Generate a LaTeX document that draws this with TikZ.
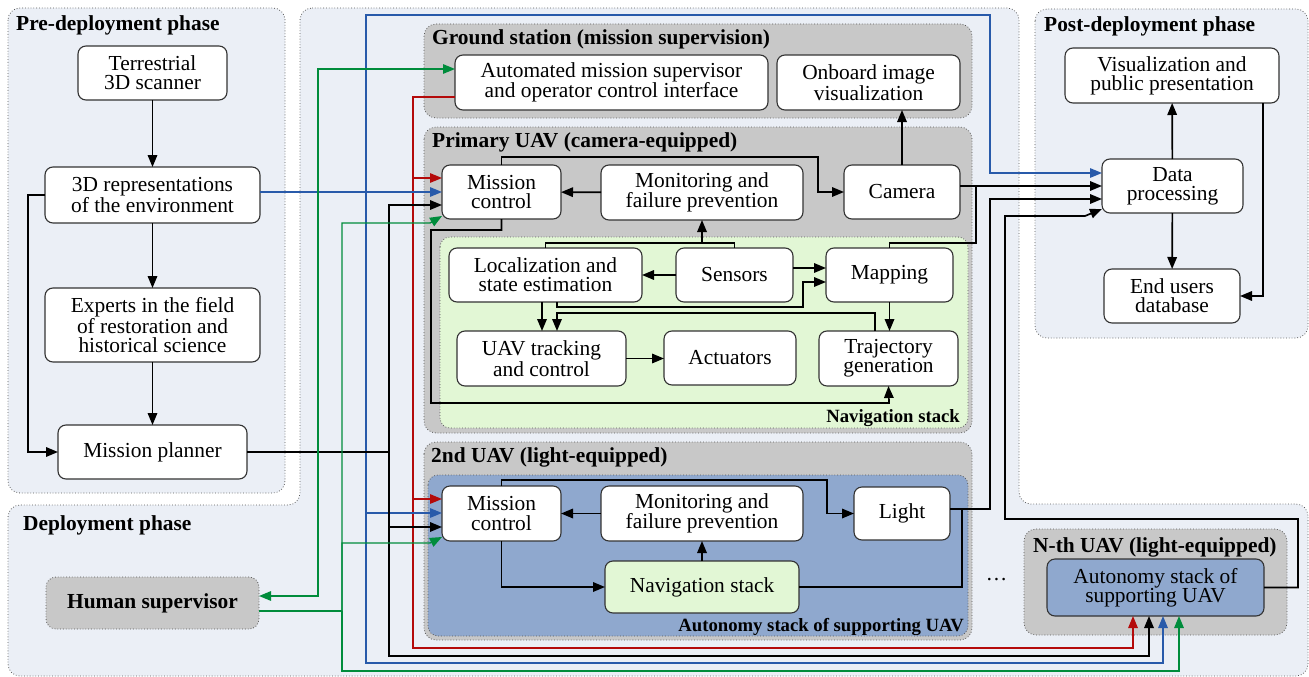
\documentclass[tikz,border=0pt]{standalone}
\usepackage{fontspec}
\setmainfont{Liberation Serif}
\usetikzlibrary{arrows.meta}
\definecolor{bgc}{RGB}{235,239,246}
\definecolor{grc}{RGB}{200,200,200}
\definecolor{nvc}{RGB}{226,247,213}
\definecolor{auc}{RGB}{143,168,206}
\definecolor{cred}{RGB}{180,10,10}
\definecolor{cblue}{RGB}{40,90,170}
\definecolor{cgreen}{RGB}{0,140,60}
\newcommand\nfnt{\fontsize{21.4}{19.2}\selectfont}
\newcommand\tfnt{\fontsize{21.4}{19.2}\selectfont\bfseries}
\newcommand\lfnt{\fontsize{18.7}{18}\selectfont\bfseries}
\begin{document}
\begin{tikzpicture}[x=1pt,y=-1pt,
  >={Triangle[length=12pt,width=9.5pt]},
  box/.style={draw=black!80,line width=1.1pt,fill=white,rounded corners=8pt,align=center,inner sep=0pt,outer sep=0pt,font=\nfnt},
  sz/.style 2 args={minimum width=#1pt,minimum height=#2pt},
  region/.style={fill=bgc,draw=black!65,line width=0.8pt,dash pattern=on 0.8pt off 2pt,rounded corners=12pt},
  cont/.style={fill=grc,draw=black!65,line width=0.8pt,dash pattern=on 0.8pt off 2pt,rounded corners=12pt},
  title/.style={font=\tfnt,anchor=base west,inner sep=0pt},
  lab/.style={font=\lfnt,anchor=base east,inner sep=0pt},
  kl/.style={draw=black,line width=1.7pt},
  ka/.style={kl,->},
  rl/.style={draw=cred,line width=1.4pt},
  ra/.style={rl,->},
  bl/.style={draw=cblue,line width=1.4pt},
  ba/.style={bl,->},
  gl/.style={draw=cgreen,line width=1.4pt},
  ga/.style={gl,->}
]
\useasboundingbox (0,0) rectangle (1309,677);
% phases
\path[region] (8,8) rectangle (285,493);
\path[region] (300,8) -- (1019,8) -- (1019,504) -- (1308,504) -- (1308,676) -- (8,676) -- (8,505) -- (300,505) -- cycle;
\path[region] (1035,9) rectangle (1308,338);
% containers
\path[cont] (424,24) rectangle (972,118);
\path[cont] (424,127) rectangle (972,433);
\path[cont,fill=nvc,rounded corners=10pt] (440,237) rectangle (968,428);
\path[cont] (424,442) rectangle (972,640);
\path[cont,fill=auc,rounded corners=10pt] (428,475) rectangle (968,636);
\path[cont] (1024,529) rectangle (1287,635);
% titles
\node[title] (tpre) at (16,31) {Pre-deployment phase};
\node[title] (tdep) at (23,530) {Deployment phase};
\node[title] (tpost) at (1044,32) {Post-deployment phase};
\node[title] (tgs) at (432,45) {Ground station (mission supervision)};
\node[title] (tpu) at (432,147) {Primary UAV (camera-equipped)};
\node[title] (tu2) at (431,462) {2nd UAV (light-equipped)};
\node[title] (tun) at (1033,552) {N-th UAV (light-equipped)};
\node[lab] (lnav) at (960,422) {Navigation stack};
\node[lab] (laut) at (964,631) {Autonomy stack of supporting UAV};
\node[font=\nfnt,anchor=base,inner sep=0pt] (dots) at (996.5,580) {\dots};
% nodes
\node[box,sz={149}{54}] (scan) at (152.5,73) {Terrestrial\\3D scanner};
\node[box,sz={215}{56}] (rep) at (152.5,195) {3D representations\\of the environment};
\node[box,sz={215}{74}] (exp) at (152.5,325) {Experts in the field\\of restoration and\\historical science};
\node[box,sz={189}{54}] (plan) at (152.5,452) {Mission planner};
\node[box,sz={213}{52},fill=grc,draw=black!65,line width=0.8pt,dash pattern=on 0.8pt off 2pt,rounded corners=10pt,font=\tfnt] (hs) at (152.5,603) {Human supervisor};
\node[box,sz={313}{55}] (ams) at (611.5,82.5) {Automated mission supervisor\\and operator control interface};
\node[box,sz={183}{55}] (oiv) at (868.5,82.5) {Onboard image\\visualization};
\node[box,sz={119}{54}] (mc1) at (501.5,192) {Mission\\control};
\node[box,sz={202}{55}] (mon1) at (702,192.5) {Monitoring and\\failure prevention};
\node[box,sz={116}{54}] (cam) at (902,192) {Camera};
\node[box,sz={193}{54}] (loc) at (545.5,275) {Localization and\\state estimation};
\node[box,sz={117}{54}] (sen) at (734.5,275) {Sensors};
\node[box,sz={127}{54}] (map) at (889.5,275) {Mapping};
\node[box,sz={169}{55}] (utc) at (541.5,358.5) {UAV tracking\\and control};
\node[box,sz={132}{54}] (act) at (730,358) {Actuators};
\node[box,sz={139}{55}] (traj) at (888.5,358.5) {Trajectory\\generation};
\node[box,sz={119}{55}] (mc2) at (501.5,513.5) {Mission\\control};
\node[box,sz={202}{55}] (mon2) at (702,513.5) {Monitoring and\\failure prevention};
\node[box,sz={96}{53}] (light) at (902,513.5) {Light};
\node[box,sz={194}{52},fill=nvc] (nav2) at (702,587) {Navigation stack};
\node[box,sz={217}{57},fill=auc] (auton) at (1155.5,587.5) {Autonomy stack of\\supporting UAV};
\node[box,sz={141}{54}] (dp) at (1172.5,186) {Data\\processing};
\node[box,sz={214}{55}] (vis) at (1172,75.5) {Visualization and\\public presentation};
\node[box,sz={136}{54}] (eud) at (1172,296) {End users\\database};
% pre-deployment connectors
\draw[ka] (scan) -- (rep);
\draw[ka] (rep) -- (exp);
\draw[ka] (exp) -- (plan);
\draw[ka] (rep.west) -- ++(-17,0) |- (plan.west);
% post-deployment connectors
\draw[ka] (dp) -- (vis);
\draw[ka] (dp) -- (eud);
\draw[ka] (vis.south -| 1263,0) |- (eud.east);
% primary UAV
\draw[ka] (cam.north) -- (cam.north |- oiv.south);
\draw[ka] (mon1) -- (mc1);
\draw[ka] (mc1.north) |- (818,157) |- (cam.west);
\draw[ka] (mc1.south) |- (431,230) |- (889,403) -- (traj.south);
\draw[ka] (sen.west) -- (loc.east);
\draw[ka] (sen.east |- 0,268) -- (map.west |- 0,268);
\draw[ka] (loc.south -| 557,0) |- (803,307) |- (map.west |- 0,282);
\draw[ka] (loc.south -| 542,0) -- (utc.north -| 542,0);
\draw[ka] (traj.north -| 875,0) |- (557,313) -- (utc.north -| 557,0);
\draw[ka] (map.south) -- (map.south |- traj.north);
\draw[ka] (utc.east) -- (act.west |- utc.east);
\draw[ka] (loc.north) |- (mon1.south |- 0,243) -- (mon1.south);
\draw[kl] (sen.north) |- (mon1.south |- 0,243);
\draw[kl] (map.north) |- (976,243) -- (976,186);
\draw[ka] (cam.east |- 0,186) -- (dp.west |- 0,186);
% 2nd UAV
\draw[ka] (mon2) -- (mc2);
\draw[ka] (mc2.north) |- (827,480) |- (light.west);
\draw[ka] (mc2.south) |- (nav2.west);
\draw[ka] (nav2.north) -- (mon2.south);
\draw[ka] (light.east |- 0,509) -| (990,199) -- (dp.west |- 0,199);
\draw[kl] (nav2.east) -| (962,509);
% N-th UAV
\draw[ka] (auton.east) -| (1298,519) -| (1005,216) -- (1085,216) -- (dp.west |- 0,209);
% red
\draw[ra] (ams.west |- 0,97) -| (413,178) -- (mc1.west |- 0,178);
\draw[ra] (413,178) |- (mc2.west |- 0,499);
\draw[ra] (413,178) |- (1133,648) -- (auton.south -| 1133,0);
% blue
\draw[ba] (rep.east |- 0,192) -- (mc1.west |- 0,192);
\draw[ba] (366,192) |- (990,15) -- (990,173) -- (dp.west |- 0,173);
\draw[ba] (366,192) |- (mc2.west |- 0,513);
\draw[ba] (366,192) |- (1163,663) -- (auton.south -| 1163,0);
% black (mission planner)
\draw[kl] (plan.east) -- (389,452);
\draw[ka] (389,452) |- (mc1.west |- 0,205);
\draw[ka] (389,452) |- (mc2.west |- 0,527);
\draw[ka] (389,452) |- (1149,656) -- (auton.south -| 1149,0);
% green
\draw[gl,<->] (hs.east |- 0,596) -| (318,69) -- (ams.west |- 0,69);
\draw[gl] (hs.east |- 0,611) -- (342,611);
\draw[ga] (342,611) |- (430,223) -- (mc1.west |- 0,216);
\draw[ga] (342,611) |- (430,543) -- (mc2.west |- 0,537);
\draw[ga] (342,611) |- (1179,671) -- (auton.south -| 1179,0);
\end{tikzpicture}
\end{document}
